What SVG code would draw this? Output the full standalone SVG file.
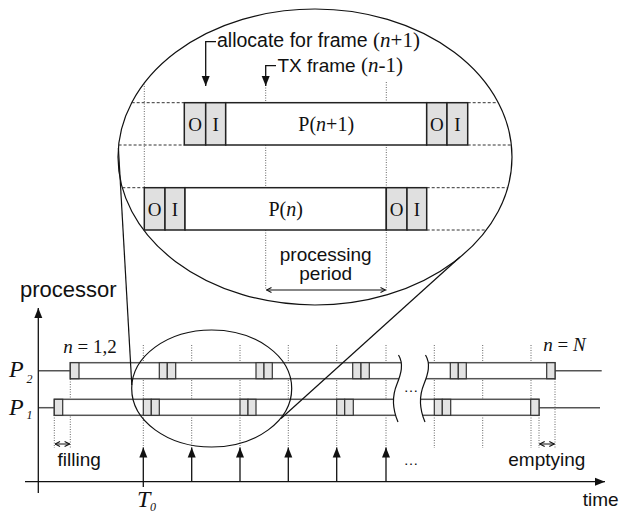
<svg xmlns="http://www.w3.org/2000/svg" width="620" height="514" viewBox="0 0 620 514">
<style>
.sans{font-family:"Liberation Sans",Arial,sans-serif;fill:#111}
.serif{font-family:"Liberation Serif","Times New Roman",serif;fill:#111}
.it{font-style:italic}
.dot{stroke:#666;stroke-width:1;stroke-dasharray:1 1.5;fill:none}
.dash{stroke:#333;stroke-width:1;stroke-dasharray:3 2;fill:none}
.zbox{fill:#fff;stroke:#222;stroke-width:1.5}
.zgray{fill:#e0e0e0;stroke:#222;stroke-width:1.5}
.bar{fill:#fff;stroke:#555;stroke-width:1.5}
.cell{fill:#e3e3e3;stroke:#333;stroke-width:1.2}
.thin{stroke:#111;stroke-width:1.2;fill:none}
.ln{stroke:#111;stroke-width:1.3;fill:none}
.stub{stroke:#555;stroke-width:1.5;fill:none}
</style>
<defs>
<marker id="ah" markerUnits="userSpaceOnUse" markerWidth="10" markerHeight="10" viewBox="0 0 10 8" refX="10" refY="4" orient="auto"><path d="M0,0 L10,4 L0,8 Z" fill="#111"/></marker>
<marker id="oh" markerUnits="userSpaceOnUse" markerWidth="6" markerHeight="6" viewBox="0 0 6 6" refX="5.5" refY="3" orient="auto-start-reverse"><path d="M0.5,0.5 L5.5,3 L0.5,5.5" fill="none" stroke="#111" stroke-width="1.1"/></marker>
</defs>

<!-- zoom view -->
<g id="zoom-ellipse">
<ellipse cx="315" cy="157" rx="197" ry="148" class="thin"/>
</g>
<g id="zoom-grid">
<line x1="144.3" y1="83.5" x2="144.3" y2="188" class="dot"/>
<line x1="265.7" y1="85" x2="265.7" y2="290" class="dot"/>
<line x1="386.3" y1="82" x2="386.3" y2="292" class="dot"/>
<line x1="131.7" y1="102.7" x2="184.3" y2="102.7" class="dash"/>
<line x1="118.6" y1="145" x2="184.3" y2="145" class="dash"/>
<line x1="467.7" y1="102.7" x2="498" y2="102.7" class="dash"/>
<line x1="467.7" y1="145" x2="511" y2="145" class="dash"/>
<line x1="122.3" y1="187.7" x2="144.3" y2="187.7" class="dash"/>
<line x1="426.7" y1="187.7" x2="507.5" y2="187.7" class="dash"/>
<line x1="426.7" y1="230" x2="486.4" y2="230" class="dash"/>
</g>
<g id="zoom-bar-n1">
<rect x="184.3" y="102.7" width="21.4" height="42.3" class="zgray"/>
<rect x="205.7" y="102.7" width="20" height="42.3" class="zgray"/>
<rect x="225.7" y="102.7" width="201" height="42.3" class="zbox"/>
<rect x="426.7" y="102.7" width="20.3" height="42.3" class="zgray"/>
<rect x="447" y="102.7" width="20.7" height="42.3" class="zgray"/>
<text x="195" y="130.5" class="serif" font-size="19" text-anchor="middle">O</text>
<text x="215.7" y="130.5" class="serif" font-size="19" text-anchor="middle">I</text>
<text x="326.2" y="130.5" class="serif" font-size="20" text-anchor="middle">P(<tspan class="it">n</tspan>+1)</text>
<text x="436.9" y="130.5" class="serif" font-size="19" text-anchor="middle">O</text>
<text x="457.3" y="130.5" class="serif" font-size="19" text-anchor="middle">I</text>
</g>
<g id="zoom-bar-n">
<rect x="144.3" y="187.7" width="20.7" height="42.3" class="zgray"/>
<rect x="165" y="187.7" width="20" height="42.3" class="zgray"/>
<rect x="185" y="187.7" width="201.3" height="42.3" class="zbox"/>
<rect x="386.3" y="187.7" width="20.7" height="42.3" class="zgray"/>
<rect x="407" y="187.7" width="19.7" height="42.3" class="zgray"/>
<text x="154.7" y="215.5" class="serif" font-size="19" text-anchor="middle">O</text>
<text x="175" y="215.5" class="serif" font-size="19" text-anchor="middle">I</text>
<text x="285.7" y="215.5" class="serif" font-size="20" text-anchor="middle">P(<tspan class="it">n</tspan>)</text>
<text x="396.7" y="215.5" class="serif" font-size="19" text-anchor="middle">O</text>
<text x="416.9" y="215.5" class="serif" font-size="19" text-anchor="middle">I</text>
</g>
<g id="label-allocate">
<path d="M216,41.7 H205.7 V86" class="ln" marker-end="url(#ah)"/>
<text x="217" y="47" class="sans" font-size="19.5">allocate for frame <tspan class="serif" font-size="21">(<tspan class="it">n</tspan>+1)</tspan></text>
</g>
<g id="label-tx">
<path d="M276,65.7 H265.7 V86" class="ln" marker-end="url(#ah)"/>
<text x="277.5" y="72" class="sans" font-size="19">TX frame <tspan class="serif" font-size="21">(<tspan class="it">n</tspan>-1)</tspan></text>
</g>
<g id="label-processing">
<line x1="266.5" y1="290" x2="385.5" y2="290" stroke="#111" stroke-width="1.2" marker-start="url(#oh)" marker-end="url(#oh)"/>
<text x="325.7" y="261" class="sans" font-size="19" text-anchor="middle">processing</text>
<text x="325.7" y="280" class="sans" font-size="19" text-anchor="middle">period</text>
</g>

<!-- timeline -->
<g id="timeline-grid">
<line x1="54.3" y1="415" x2="54.3" y2="448" class="dot"/>
<line x1="70.3" y1="379" x2="70.3" y2="448" class="dot"/>
<line x1="143.3" y1="345" x2="143.3" y2="448" class="dot"/>
<line x1="191.7" y1="345" x2="191.7" y2="448" class="dot"/>
<line x1="240" y1="345" x2="240" y2="448" class="dot"/>
<line x1="288.3" y1="345" x2="288.3" y2="448" class="dot"/>
<line x1="336.7" y1="345" x2="336.7" y2="448" class="dot"/>
<line x1="386" y1="345" x2="386" y2="448" class="dot"/>
<line x1="434.3" y1="345" x2="434.3" y2="448" class="dot"/>
<line x1="482.7" y1="345" x2="482.7" y2="448" class="dot"/>
<line x1="531" y1="345" x2="531" y2="448" class="dot"/>
<line x1="539" y1="415" x2="539" y2="448" class="dot"/>
<line x1="555" y1="379" x2="555" y2="448" class="dot"/>
</g>
<g id="bar-P2">
<line x1="38.3" y1="370.7" x2="70.3" y2="370.7" class="stub"/>
<line x1="555" y1="370.7" x2="601.7" y2="370.7" class="stub"/>
<rect x="70.3" y="362.7" width="345" height="16" class="bar"/>
<rect x="410" y="362.7" width="145" height="16" class="bar"/>
<rect x="70.3" y="362.7" width="8.7" height="16" class="cell"/>
<rect x="159.3" y="362.7" width="8" height="16" class="cell"/>
<rect x="167.3" y="362.7" width="8.4" height="16" class="cell"/>
<rect x="256" y="362.7" width="8" height="16" class="cell"/>
<rect x="264" y="362.7" width="8.3" height="16" class="cell"/>
<rect x="352.7" y="362.7" width="8.3" height="16" class="cell"/>
<rect x="361" y="362.7" width="8.3" height="16" class="cell"/>
<rect x="450.3" y="362.7" width="8" height="16" class="cell"/>
<rect x="458.3" y="362.7" width="8" height="16" class="cell"/>
<rect x="546.7" y="362.7" width="8.3" height="16" class="cell"/>
</g>
<g id="bar-P1">
<line x1="38.3" y1="407.7" x2="54.3" y2="407.7" class="stub"/>
<line x1="539" y1="407.7" x2="600" y2="407.7" class="stub"/>
<rect x="54.3" y="399.3" width="361" height="16" class="bar"/>
<rect x="410" y="399.3" width="129" height="16" class="bar"/>
<rect x="54.3" y="399.3" width="8.4" height="16" class="cell"/>
<rect x="143.3" y="399.3" width="8" height="16" class="cell"/>
<rect x="151.3" y="399.3" width="8" height="16" class="cell"/>
<rect x="240" y="399.3" width="8" height="16" class="cell"/>
<rect x="248" y="399.3" width="8" height="16" class="cell"/>
<rect x="336.7" y="399.3" width="8" height="16" class="cell"/>
<rect x="344.7" y="399.3" width="8.6" height="16" class="cell"/>
<rect x="434.3" y="399.3" width="8" height="16" class="cell"/>
<rect x="442.3" y="399.3" width="8.4" height="16" class="cell"/>
<rect x="530.7" y="399.3" width="8.3" height="16" class="cell"/>
</g>
<g id="break">
<path d="M398.5,355 C404,364 401,374 397,384 C392,396 392,408 398,422 L425,422 C419,408 419,396 424,384 C428,374 431,364 425.5,355 Z" fill="#fff"/>
<path d="M398.5,355 C404,364 401,374 397,384 C392,396 392,408 398,422" class="thin"/>
<path d="M425.5,355 C431,364 428,374 424,384 C419,396 419,408 425,422" class="thin"/>
<text x="411" y="392" class="sans" font-size="15" text-anchor="middle">…</text>
</g>
<g id="zoom-connectors">
<ellipse cx="211.7" cy="388.5" rx="80" ry="58.5" class="thin"/>
<line x1="118.4" y1="148" x2="131.8" y2="385" class="thin"/>
<line x1="460" y1="257" x2="281" y2="418.5" class="thin"/>
</g>
<g id="axes">
<line x1="38.3" y1="493" x2="38.3" y2="308" class="ln" marker-end="url(#ah)"/>
<line x1="25" y1="481.7" x2="605" y2="481.7" class="ln" marker-end="url(#ah)"/>
<text x="20" y="297" class="sans" font-size="22">processor</text>
<text x="582.7" y="506" class="sans" font-size="19">time</text>
</g>
<g id="tx-arrows">
<line x1="143.3" y1="487" x2="143.3" y2="447.5" class="ln" marker-end="url(#ah)"/>
<line x1="191.7" y1="481.7" x2="191.7" y2="447.5" class="ln" marker-end="url(#ah)"/>
<line x1="240" y1="481.7" x2="240" y2="447.5" class="ln" marker-end="url(#ah)"/>
<line x1="288.3" y1="481.7" x2="288.3" y2="447.5" class="ln" marker-end="url(#ah)"/>
<line x1="336.7" y1="481.7" x2="336.7" y2="447.5" class="ln" marker-end="url(#ah)"/>
<line x1="386" y1="481.7" x2="386" y2="447.5" class="ln" marker-end="url(#ah)"/>
<text x="411" y="465" class="sans" font-size="15" text-anchor="middle">…</text>
</g>
<g id="labels">
<text x="9" y="377" class="serif it" font-size="24">P</text>
<text x="26.5" y="383" class="serif it" font-size="12">2</text>
<text x="9" y="415" class="serif it" font-size="24">P</text>
<text x="26.5" y="419" class="serif it" font-size="12">1</text>
<text x="137" y="507" class="serif it" font-size="24">T</text>
<text x="150" y="510.5" class="serif it" font-size="12">0</text>
<text x="63.3" y="353" class="serif" font-size="19"><tspan class="it">n</tspan> = 1,2</text>
<text x="543.3" y="351" class="serif" font-size="19"><tspan class="it">n</tspan> = <tspan class="it">N</tspan></text>
<line x1="55" y1="444" x2="69.6" y2="444" stroke="#111" stroke-width="1" marker-start="url(#oh)" marker-end="url(#oh)"/>
<text x="57.5" y="466" class="sans" font-size="19">filling</text>
<line x1="539.7" y1="444" x2="554.3" y2="444" stroke="#111" stroke-width="1" marker-start="url(#oh)" marker-end="url(#oh)"/>
<text x="508.3" y="466" class="sans" font-size="19">emptying</text>
</g>
</svg>
